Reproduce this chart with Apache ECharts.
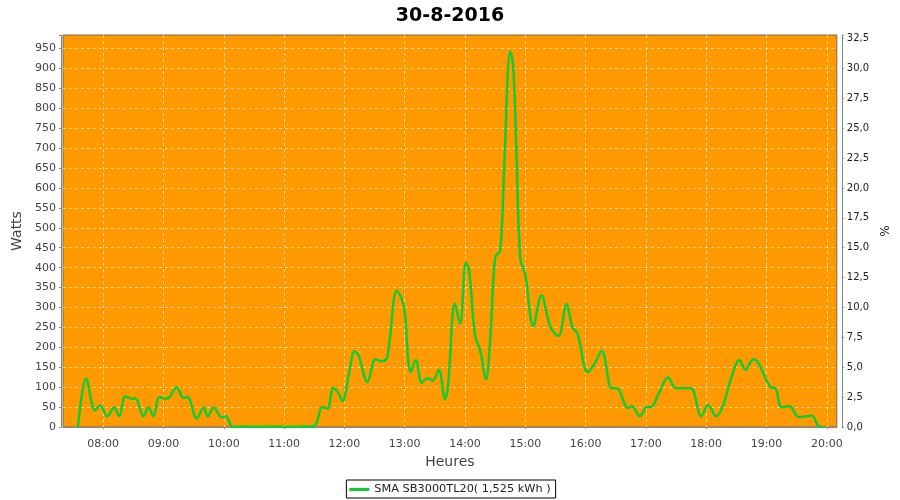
<!DOCTYPE html>
<html>
<head>
<meta charset="utf-8">
<script src="https://cdn.jsdelivr.net/npm/echarts@6/dist/echarts.min.js"></script>
<style>html,body{margin:0;padding:0;background:#fff}#c{width:900px;height:500px}</style>
</head>
<body>
<div id="c"></div>
<script>
const times = ['07:35','07:43','07:52','07:57','08:04','08:11','08:16','08:22','08:28','08:32','08:40','08:45','08:50','08:56','09:03','09:06','09:13','09:20','09:24','09:33','09:40','09:44','09:50','09:58','10:02','10:09','10:20','10:35','10:50','11:05','11:20','11:30','11:38','11:43','11:49','11:54','11:58','12:05','12:10','12:14','12:23','12:31','12:37','12:42','12:45','12:52','12:57','13:00','13:06','13:11','13:17','13:22','13:28','13:34','13:40','13:43','13:50','13:55','14:01','14:04','14:10','14:15','14:21','14:25','14:30','14:35','14:39','14:45','14:48','14:51','14:55','15:00','15:08','15:16','15:25','15:33','15:41','15:47','15:52','16:02','16:08','16:16','16:26','16:31','16:42','16:46','16:54','17:01','17:05','17:13','17:22','17:30','17:38','17:45','17:55','18:02','18:10','18:17','18:25','18:33','18:39','18:47','18:52','19:04','19:09','19:15','19:23','19:32','19:45','19:52','19:57'];
const watts = [0,122,42,54,27,49,27,77,71,72,27,49,27,75,71,75,100,73,75,21,49,27,49,24,27,0,1,0,1,0,1,2,50,46,98,85,65,140,190,180,113,170,165,172,218,342,323,289,138,168,111,122,117,144,70,100,310,260,412,395,230,193,120,216,426,442,654,943,905,704,424,382,253,331,251,228,308,250,235,138,155,191,97,97,48,52,27,50,50,85,124,97,97,97,27,55,27,55,124,168,143,170,160,100,97,50,52,25,28,2,0];
const leftTicks = {min:0, max:984, step:50};
const rightTicks = {min:0, max:32.8, step:2.5};
const titleText = '30-8-2016';
const seriesName = 'SMA SB3000TL20( 1,525 kWh )';

function ts(hm){const [h,m]=hm.split(':').map(Number);return new Date(2016,7,30,h,m).getTime();}
function pad(n){return (n<10?'0':'')+n;}
const data = times.map((t,i)=>[ts(t), watts[i]]);
const font = 'DejaVu Sans';
const grid = {color:'rgba(255,255,255,0.6)',type:[3,3],width:1};
const chart = echarts.init(document.getElementById('c'), null, {renderer:'canvas'});
chart.setOption({
  animation:false,
  backgroundColor:'#fff',
  textStyle:{fontFamily:font},
  title:{text:titleText,left:'center',top:2,textStyle:{fontFamily:font,fontSize:19,fontWeight:'bold',color:'#000'}},
  grid:{left:63,right:63,top:35,bottom:73,show:true,backgroundColor:'#ff9900',borderColor:'#7a6a55',borderWidth:1},
  legend:{bottom:2,left:'center',data:[{name:seriesName,icon:'rect'}],itemWidth:20,itemHeight:3,itemGap:3,
    borderColor:'#000',borderWidth:1,padding:[4,5,3,3],borderRadius:0,
    textStyle:{fontFamily:font,fontSize:11.3,color:'#222'}},
  xAxis:{type:'time',min:ts('07:20'),max:ts('20:10'),minInterval:3600000,maxInterval:3600000,
    offset:4,name:'Heures',nameLocation:'middle',nameGap:24,
    nameTextStyle:{fontFamily:font,fontSize:14,color:'#444'},
    axisLine:{lineStyle:{color:'#888'}},axisTick:{show:true,length:2,lineStyle:{color:'#888'}},
    axisLabel:{fontFamily:font,fontSize:11,color:'#444',showMinLabel:false,showMaxLabel:false,
      formatter:function(v){const d=new Date(v);return pad(d.getHours())+':'+pad(d.getMinutes());}},
    splitLine:{show:true,showMinLine:false,showMaxLine:false,lineStyle:grid}},
  yAxis:[
    {type:'value',min:leftTicks.min,max:leftTicks.max,interval:leftTicks.step,offset:2,
     name:'Watts',nameLocation:'middle',nameGap:37,nameRotate:90,
     nameTextStyle:{fontFamily:font,fontSize:14,color:'#444'},
     axisLine:{show:true,lineStyle:{color:'#888'}},axisTick:{show:true,length:2,lineStyle:{color:'#888'}},
     axisLabel:{fontFamily:font,fontSize:11,color:'#444',margin:5,
       formatter:function(v){return (Math.abs(v%50)<1e-6)?String(v):'';}},
     splitLine:{show:true,showMinLine:false,showMaxLine:false,lineStyle:grid}},
    {type:'value',position:'right',min:rightTicks.min,max:rightTicks.max,interval:rightTicks.step,offset:5,
     name:'%',nameLocation:'middle',nameGap:38,nameRotate:90,
     nameTextStyle:{fontFamily:font,fontSize:12,color:'#222'},
     axisLine:{show:true,lineStyle:{color:'#888'}},axisTick:{show:true,length:2,lineStyle:{color:'#888'}},
     axisLabel:{fontFamily:font,fontSize:10,color:'#222',margin:5,
       formatter:function(v){const r=Math.round(v*10)/10;return (Math.abs((r/2.5)-Math.round(r/2.5))<1e-6)?r.toFixed(1).replace('.',','):'';}},
     splitLine:{show:false}}
  ],
  series:[{name:seriesName,type:'line',yAxisIndex:0,data:data,smooth:0.35,showSymbol:false,
    lineStyle:{color:'#11cc33',width:2.5},itemStyle:{color:'#11cc33'}}]
});
</script>
</body>
</html>
